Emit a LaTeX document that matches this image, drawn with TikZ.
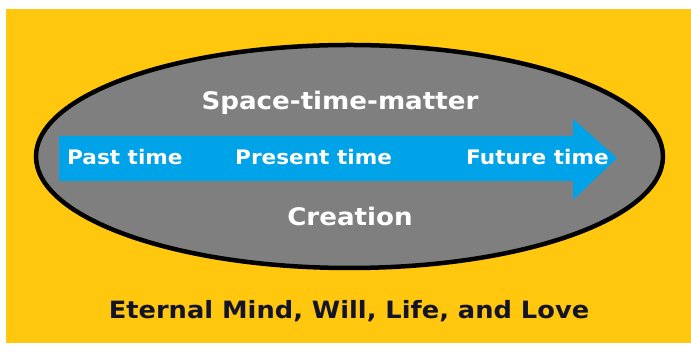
\documentclass[tikz,border=0pt]{standalone}
\usepackage{fontspec}
\setmainfont{DejaVu Sans}
\newfontfamily\widefont[FakeStretch=1.08]{DejaVu Sans}
\definecolor{bgyellow}{HTML}{FFC70D}
\definecolor{ellgray}{HTML}{7F7F7F}
\definecolor{arrowblue}{HTML}{00A2E8}
\definecolor{navytext}{HTML}{141428}
\tikzset{
  lbl/.style={font=\widefont\bfseries\fontsize{#1}{#1}\selectfont, text=white, inner sep=0pt},
  timelbl/.style={lbl=20, anchor=west},
}
\begin{document}
\begin{tikzpicture}[x=1pt,y=1pt]
\useasboundingbox (0,0) rectangle (691,352);
\fill[white] (0,0) rectangle (691,352);
\fill[bgyellow] (6,9) rectangle (691,343);
\draw[line width=4.5, fill=ellgray] (349.5,195.5) ellipse [x radius=313.5, y radius=111.5];
\fill[arrowblue] (59,216) -- (573,216) -- (573,233) -- (617,194) -- (573,152) -- (573,171) -- (59,171) -- cycle;
\node[lbl=24.2] (stm) at (340,249.5) {Space-time-matter};
\node[lbl=24.2] (cre) at (350,136) {Creation};
\node[timelbl] (past) at (67,195) {Past time};
\node[timelbl] (pres) at (235,195) {Present time};
\node[timelbl] (fut) at (466,195) {Future time};
\node[lbl=23.8, text=navytext] (eml) at (349,40.5) {Eternal Mind, Will, Life, and Love};
\end{tikzpicture}
\end{document}
